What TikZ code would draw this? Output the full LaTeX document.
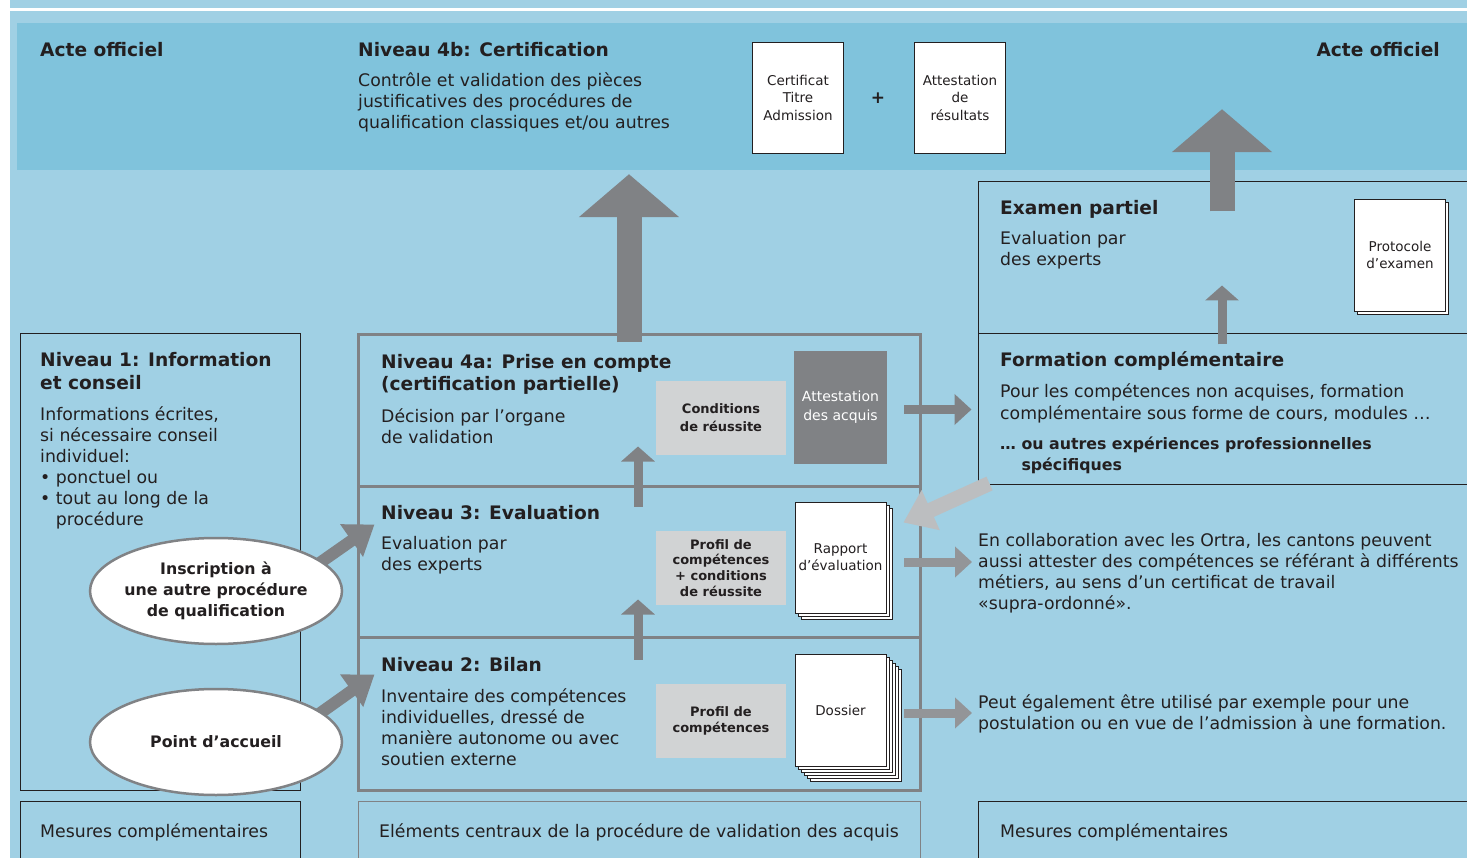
\documentclass[tikz,border=0pt]{standalone}
\usepackage{fontspec}
\setmainfont{DejaVu Sans}
\usepackage{tikz}
\usetikzlibrary{shapes.geometric, arrows.meta, positioning, calc, shadows}
\definecolor{paleblue}{HTML}{A0D0E4}
\definecolor{bandblue}{HTML}{80C3DC}
\definecolor{ink}{HTML}{231F20}
\definecolor{stonegray}{HTML}{808285}
\definecolor{midgray}{HTML}{939598}
\definecolor{palegray}{HTML}{D1D3D4}
\definecolor{ghostgray}{HTML}{BCBEC0}
\pgfdeclarelayer{front}
\pgfsetlayers{main,front}

\begin{document}
\begin{tikzpicture}[x=1pt, y=-1pt,
  title/.style={inner sep=0pt, align=left, text=ink, font=\fontsize{18.6}{23}\selectfont\bfseries},
  body/.style={inner sep=0pt, align=left, text=ink, font=\fontsize{17.3}{21}\selectfont},
  frame/.style={rectangle, draw=ink, line width=1pt, inner sep=0pt},
  level/.style={rectangle, draw=stonegray, line width=3pt, minimum width=562pt, inner sep=0pt},
  tag/.style={rectangle, fill=palegray, minimum width=130pt, minimum height=74pt, align=center, inner sep=0pt, text=ink, font=\fontsize{13}{16}\selectfont\bfseries},
  page/.style={rectangle, draw=ink, line width=.8pt, fill=white, minimum width=91pt, minimum height=111pt, inner sep=1pt, align=center, text=ink, font=\fontsize{13.5}{17.5}\selectfont},
  stack/.style={general shadow={shadow xshift=#1, shadow yshift=-#1, fill=white, draw=ink, line width=.8pt}},
  bubble/.style={ellipse, draw=stonegray, line width=2.5pt, fill=white, minimum width=252pt, minimum height=106pt, inner xsep=-10pt, inner ysep=0pt, align=center, text=ink, font=\fontsize{15.8}{21}\selectfont\bfseries},
  bigup/.style={draw=stonegray, line width=25pt, -{Triangle[width=98pt, length=43pt]}},
  smallup/.style={draw=stonegray, line width=9pt, -{Triangle[width=33pt, length=15pt]}},
  push/.style={line width=9pt, -{Triangle[width=30pt, length=17pt]}},
  slant/.style={draw=stonegray, line width=12pt, -{Triangle[width=38pt, length=28pt]}}
]
  \useasboundingbox (0,0) rectangle (1467,858);
  \clip (0,0) rectangle (1467,858);
  \fill[white] (0,0) rectangle (1467,858);
  \fill[paleblue] (10,0) rectangle (1467,858);
  \draw[white, line width=3pt] (10,9.5) -- (1467,9.5);

  \node[fill=bandblue, minimum width=1450pt, minimum height=147pt, inner sep=0pt] (band) at (742,96.5) {};
  \node[title, anchor=base west] (acteL) at (40,57) {Acte officiel};
  \node[title, anchor=base east] (acteR) at (1440,57) {Acte officiel};
  \node[title, anchor=base west] (t4b) at (358,57) {Niveau 4b: Certification};
  \node[body, anchor=base west] (d4b) at (358,129) {Contrôle et validation des pièces\\justificatives des procédures de\\qualification classiques et/ou autres};
  \node[page] (cert) at (798,97.5) {Certificat\\Titre\\Admission};
  \node[title, font=\fontsize{17}{17}\selectfont\bfseries] (plus) at (878,98) {+};
  \node[page] (resu) at (960,97.5) {Attestation\\de\\résultats};

  \node[frame, minimum width=522pt, minimum height=152pt] (exam) at (1239,258) {};
  \node[frame, minimum width=522pt, minimum height=150pt] (form) at (1239,409) {};
  \node[title, anchor=base west] (tExam) at (1000,215) {Examen partiel};
  \node[body, anchor=base west] (dExam) at (1000,266) {Evaluation par\\des experts};
  \node[page, stack=3pt, minimum height=112pt, font=\fontsize{13.5}{17}\selectfont] (proto) at (1400,255) {Protocole\\d’examen};
  \node[title, anchor=base west] (tForm) at (1000,367) {Formation complémentaire};
  \node[body, anchor=base west] (dForm) at (1000,419) {Pour les compétences non acquises, formation\\complémentaire sous forme de cours, modules …};
  \node[body, anchor=base west, font=\fontsize{15.8}{21}\selectfont\bfseries] (xForm) at (1000,470) {… ou autres expériences professionnelles\\\phantom{… }spécifiques};

  \node[frame, minimum width=280pt, minimum height=456pt] (n1) at (160,562) {};
  \node[title, anchor=base west] (t1) at (40,390) {Niveau 1: Information\\et conseil};
  \node[body, anchor=base west] (d1) at (40,525) {Informations écrites,\\si nécessaire conseil\\individuel:\\• ponctuel ou\\• tout au long de la\\\phantom{• }procédure};

  \node[level, minimum height=151pt] (n4a) at (639,410.5) {};
  \node[level, minimum height=151pt] (n3) at (639,561.5) {};
  \node[level, minimum height=153pt] (n2) at (639,713.5) {};

  \node[title, anchor=base west, font=\fontsize{18.6}{22}\selectfont\bfseries] (t4a) at (381,391) {Niveau 4a: Prise en compte\\(certification partielle)};
  \node[body, anchor=base west] (d4a) at (381,443) {Décision par l’organe\\de validation};
  \node[tag, font=\fontsize{13}{18}\selectfont\bfseries] (cond) at (721,418) {Conditions\\de réussite};
  \node[page, fill=stonegray, draw=none, text=white, minimum width=93pt, minimum height=113pt, font=\fontsize{14}{19}\selectfont] (att4a) at (840.5,407.5) {Attestation\\des acquis};

  \node[title, anchor=base west] (t3) at (381,519) {Niveau 3: Evaluation};
  \node[body, anchor=base west] (d3) at (381,570) {Evaluation par\\des experts};
  \node[tag, font=\fontsize{13}{15.7}\selectfont\bfseries] (prof3) at (721,568) {Profil de\\compétences\\+ conditions\\de réussite};
  \node[page, stack=6pt, stack=3pt, font=\fontsize{13.5}{17}\selectfont] (rap) at (840.5,557.5) {Rapport\\d’évaluation};

  \node[title, anchor=base west] (t2) at (381,671) {Niveau 2: Bilan};
  \node[body, anchor=base west] (d2) at (381,765) {Inventaire des compétences\\individuelles, dressé de\\manière autonome ou avec\\soutien externe};
  \node[tag, font=\fontsize{13}{16.5}\selectfont\bfseries] (prof2) at (721,721) {Profil de\\compétences};
  \node[page, stack=15pt, stack=12pt, stack=9pt, stack=6pt, stack=3pt, minimum height=112pt] (dos) at (840.5,710) {Dossier};

  \node[body, anchor=base west] (collab) at (978,609) {En collaboration avec les Ortra, les cantons peuvent\\aussi attester des compétences se référant à différents\\métiers, au sens d’un certificat de travail\\«supra-ordonné».};
  \node[body, anchor=base west] (peut) at (978,729) {Peut également être utilisé par exemple pour une\\postulation ou en vue de l’admission à une formation.};

  \node[frame, minimum width=280pt, minimum height=80pt, anchor=north west] (mesL) at (20,801) {};
  \node[body, anchor=base west] (tMesL) at (40,837) {Mesures complémentaires};
  \node[frame, draw=stonegray, line width=.8pt, minimum width=562pt, minimum height=80pt, anchor=north west] (core) at (358,801) {};
  \node[body, anchor=base west] (tCore) at (379,837) {Eléments centraux de la procédure de validation des acquis};
  \node[frame, minimum width=520pt, minimum height=80pt, anchor=north west] (mesR) at (978,801) {};
  \node[body, anchor=base west] (tMesR) at (1000,837) {Mesures complémentaires};

  \begin{pgfonlayer}{front}
    \node[bubble] (ins) at (216,591) {Inscription à\\une autre procédure\\de qualification};
    \node[bubble] (acc) at (216,742) {Point d’accueil};
  \end{pgfonlayer}

  \draw[bigup] ($(n4a.north)+(-10,9)$) -- ($(n4a.north |- band.south)+(-10,4)$);
  \draw[bigup] ($(exam.north)+(-17,30)$) -- ($(exam.north |- band.south)+(-17,-61)$);
  \draw[smallup] ($(form.north)+(-17,11)$) -- ($(form.north)+(-17,-48)$);
  \draw[smallup] ($(n3.north)+(-1,22)$) -- ($(n3.north)+(-1,-38)$);
  \draw[smallup] ($(n2.north)+(-1,24)$) -- ($(n2.north)+(-1,-36)$);
  \draw[push, stonegray] ($(att4a.east)+(17,2)$) -- ($(att4a.east -| form.west)+(-6,2)$);
  \draw[push, midgray] ($(rap.east)+(18,4.5)$) -- ($(rap.east -| collab.west)+(-6,4.5)$);
  \draw[push, midgray] ($(dos.east)+(18,3)$) -- ($(dos.east -| peut.west)+(-6,3)$);
  \draw[ghostgray, line width=15pt, -{Triangle[width=42pt, length=30pt]}] ($(form.south west)+(12,-1)$) -- ($(rap.east)+(17,-35)$);
  \draw[slant] ($(ins.center)!.5!(ins.east)$) -- ($(n3.north west)+(18,40)$);
  \draw[slant] ($(acc.center)!.5!(acc.east)$) -- ($(n2.north west)+(18,39)$);
\end{tikzpicture}
\end{document}
